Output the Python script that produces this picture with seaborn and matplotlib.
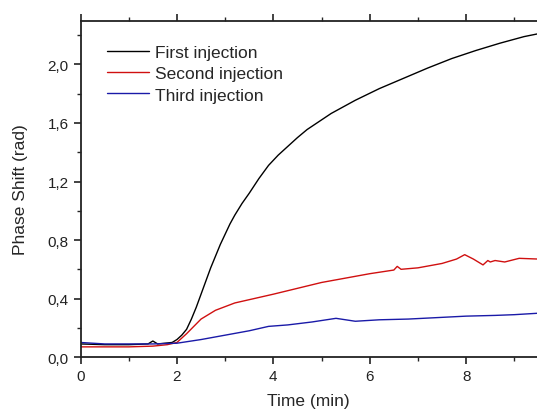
import numpy as np
import pandas as pd
import matplotlib
matplotlib.use("Agg")
import matplotlib.pyplot as plt
from matplotlib.ticker import FuncFormatter, MultipleLocator
import seaborn as sns

# Values (time in min, phase shift in rad)
first_t = [0.0, 0.5, 1.0, 1.4, 1.5, 1.6, 1.9, 2.0, 2.1, 2.2, 2.3, 2.4, 2.5, 2.6,
           2.7, 2.8, 2.9, 3.0, 3.1, 3.2, 3.35, 3.5, 3.7, 3.9, 4.1, 4.3, 4.5, 4.7,
           5.2, 5.7, 6.2, 6.7, 7.2, 7.7, 8.2, 8.7, 9.2, 9.5]
first_v = [0.09, 0.085, 0.085, 0.09, 0.11, 0.09, 0.10, 0.12, 0.15, 0.19, 0.26, 0.34,
           0.43, 0.52, 0.61, 0.69, 0.77, 0.84, 0.91, 0.97, 1.05, 1.12, 1.22, 1.31,
           1.38, 1.44, 1.50, 1.555, 1.665, 1.755, 1.835, 1.905, 1.975, 2.04, 2.095,
           2.145, 2.19, 2.21]

second_t = [0.0, 0.5, 1.0, 1.5, 1.8, 2.0, 2.2, 2.5, 2.8, 3.2, 3.6, 4.0, 4.5, 5.0,
            5.5, 6.0, 6.5, 6.57, 6.65, 7.0, 7.5, 7.8, 7.97, 8.15, 8.35, 8.45, 8.5,
            8.6, 8.8, 9.1, 9.5]
second_v = [0.07, 0.07, 0.07, 0.075, 0.085, 0.10, 0.16, 0.26, 0.32, 0.37, 0.40, 0.43,
            0.47, 0.51, 0.54, 0.57, 0.595, 0.62, 0.60, 0.61, 0.64, 0.67, 0.70, 0.67,
            0.63, 0.66, 0.65, 0.66, 0.65, 0.675, 0.67]

third_t = [0.0, 0.5, 1.0, 1.5, 2.0, 2.5, 3.0, 3.5, 3.9, 4.3, 4.8, 5.3, 5.7, 6.2,
           6.8, 7.4, 8.0, 8.6, 9.0, 9.5]
third_v = [0.10, 0.09, 0.09, 0.09, 0.095, 0.12, 0.15, 0.18, 0.21, 0.22, 0.24, 0.265,
           0.245, 0.255, 0.26, 0.27, 0.28, 0.285, 0.29, 0.30]

labels = ["First injection", "Second injection", "Third injection"]
colors = ["#000000", "#d01010", "#1a1aa8"]

df = pd.concat([
    pd.DataFrame({"Time": first_t, "Shift": first_v, "Series": labels[0]}),
    pd.DataFrame({"Time": second_t, "Shift": second_v, "Series": labels[1]}),
    pd.DataFrame({"Time": third_t, "Shift": third_v, "Series": labels[2]}),
])

sns.set_style("ticks")
plt.rcParams["font.family"] = ["Liberation Sans", "DejaVu Sans"]

fig = plt.figure(figsize=(5.37, 4.14), dpi=100)
ax = fig.add_axes([0.150, 0.135, 0.850, 0.813])

sns.lineplot(data=df, x="Time", y="Shift", hue="Series", palette=colors,
             linewidth=1.0, sort=False, estimator=None, ax=ax)

ax.set_xlim(0, 9.47)
ax.set_ylim(0, 2.3)
ax.xaxis.set_major_locator(MultipleLocator(2))
ax.xaxis.set_minor_locator(MultipleLocator(1))
ax.yaxis.set_major_locator(MultipleLocator(0.4))
ax.yaxis.set_minor_locator(MultipleLocator(0.2))
ax.yaxis.set_major_formatter(FuncFormatter(lambda v, p: f"{v:.1f}".replace(".", ",")))
ax.xaxis.set_major_formatter(FuncFormatter(lambda v, p: f"{v:.0f}"))

ax.tick_params(axis="both", which="major", direction="out", length=5, width=1.2,
               labelsize=11, top=True, colors="#222222")
ax.tick_params(axis="both", which="minor", direction="out", length=3, width=1.0, top=True)
ax.tick_params(axis="x", labeltop=False)

for side in ["left", "bottom", "top"]:
    ax.spines[side].set_linewidth(1.3)
    ax.spines[side].set_color("#222222")
ax.spines["right"].set_visible(False)

ax.set_xlabel("Time (min)", fontsize=12.5, labelpad=7)
ax.set_ylabel("Phase Shift (rad)", fontsize=12.5, labelpad=14)

ax.legend(loc="upper left", bbox_to_anchor=(0.024, 0.975), frameon=False,
          fontsize=12.5, handlelength=2.4, handletextpad=0.35, labelspacing=0.36)

fig.savefig("out.png", dpi=100)
